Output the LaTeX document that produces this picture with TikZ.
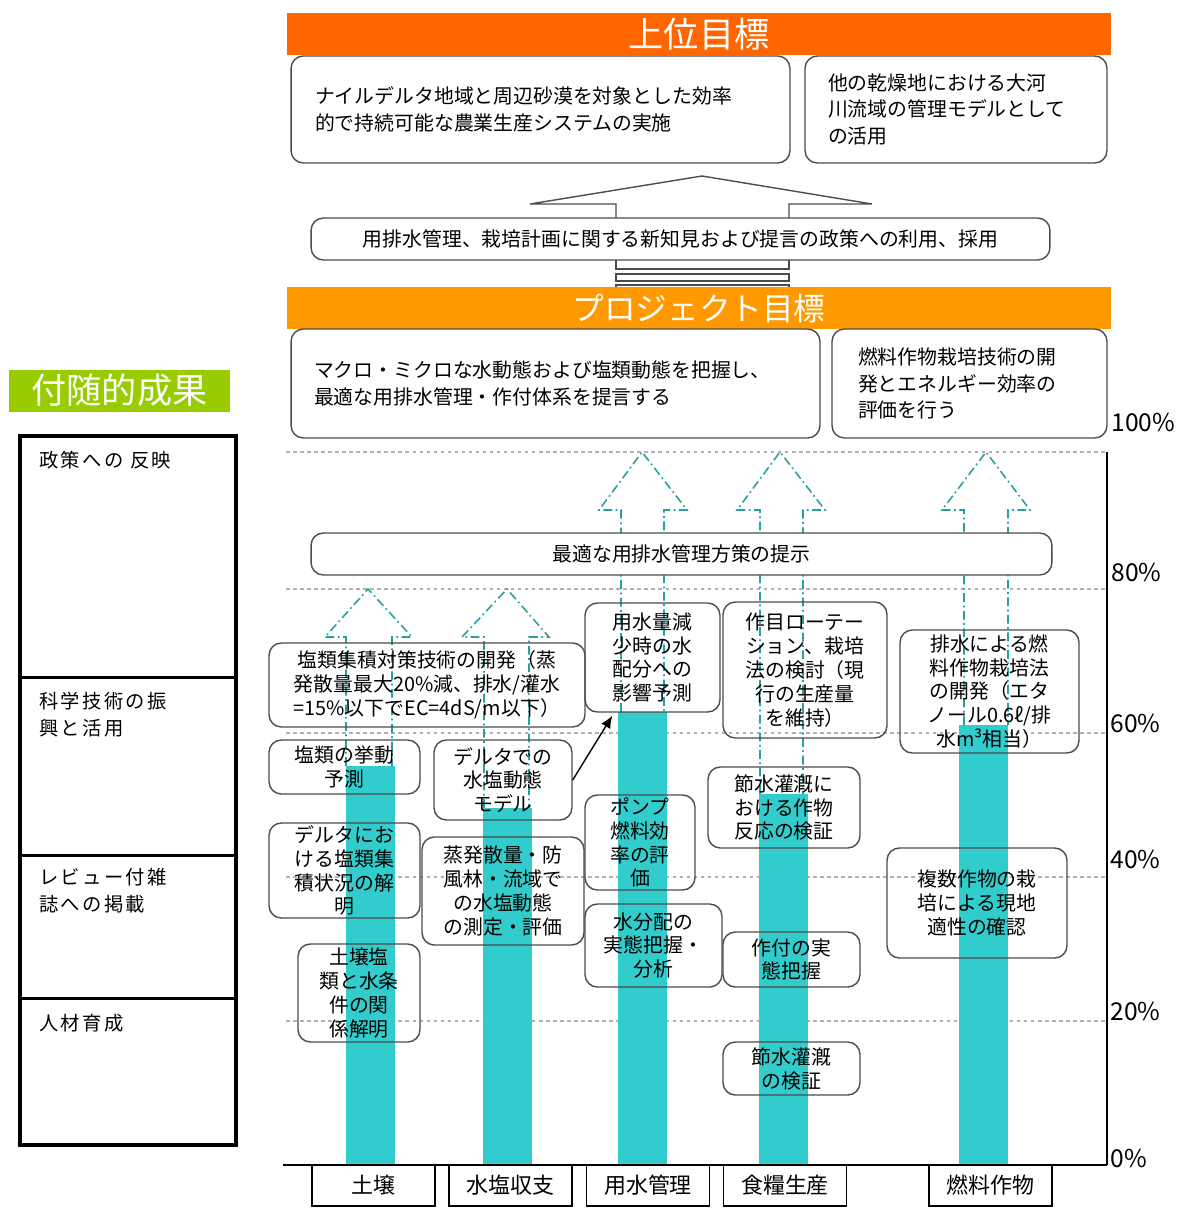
\documentclass[tikz,border=0pt]{standalone}
\usepackage{fontspec}
\usepackage{tikz}
\usetikzlibrary{arrows.meta}
\setmainfont{Noto Sans CJK JP}

\definecolor{goalorange}{RGB}{255,102,0}
\definecolor{projorange}{RGB}{255,153,0}
\definecolor{sidegreen}{RGB}{153,204,0}
\definecolor{barteal}{RGB}{51,204,204}
\definecolor{dashteal}{RGB}{40,160,160}

\tikzset{
  banner/.style={fill=#1, text=white, minimum height=0.84cm, inner sep=0pt},
  box/.style={draw=black!70, line width=0.8pt, rounded corners=7pt, align=center, inner sep=0pt, font=\fontsize{11.3}{13.6}\selectfont},
  bigbox/.style={box, fill=white, align=left, inner ysep=0pt, font=\fontsize{11.3}{15.3}\selectfont},
  catbox/.style={draw, line width=0.8pt, inner sep=0pt, minimum width=2.46cm, minimum height=0.82cm, font=\fontsize{12.5}{15}\selectfont},
  levelline/.style={draw=black!30, line width=0.6pt, dash pattern=on 2pt off 2pt},
  flow/.style={draw=dashteal, line width=0.9pt, dash pattern=on 5pt off 2pt on 1pt off 2pt},
  bigarrow/.style={draw=black!70, line width=0.8pt},
  pct/.style={anchor=base west, inner sep=0pt, font=\fontsize{14}{16}\selectfont},
  sidetext/.style={anchor=north west, align=left, inner sep=0pt, font=\fontsize{11}{15.3}\selectfont\addfontfeature{LetterSpace=12}}
}

\begin{document}
\begin{tikzpicture}[x=0.02cm, y=-0.02cm]
\useasboundingbox (0,0) rectangle (1181,1210);

% levels and axis
\draw[levelline] (286,452) -- (1107,452); \draw[levelline] (286,589) -- (1107,589);
\draw[levelline] (286,733) -- (1107,733); \draw[levelline] (286,877) -- (1107,877);
\draw[levelline] (286,1021) -- (1107,1021);
\draw[line width=1pt] (1107,452) -- (1107,1165); \draw[line width=1pt] (283,1165) -- (1107,1165);
\node[pct] (p100) at (1111,431) {100\%}; \node[pct] (p80) at (1111,581) {80\%};
\node[pct] (p60) at (1110,732) {60\%}; \node[pct] (p40) at (1110,868) {40\%};
\node[pct] (p20) at (1110,1020) {20\%}; \node[pct] (p0) at (1110,1167) {0\%};

% bars
\fill[barteal] (346,766) rectangle (395,1165);
\fill[barteal] (483,808) rectangle (532,1165);
\fill[barteal] (618,712) rectangle (667,1165);
\fill[barteal] (759,794) rectangle (808,1165);
\fill[barteal] (959,725) rectangle (1008,1165);

% dash-dot arrows
\draw[flow] (346,766) -- (346,637) -- (325,637) -- (368,589) -- (412,637) -- (392,637) -- (392,766);
\draw[flow] (484,808) -- (484,637) -- (462,637) -- (507,589) -- (549,637) -- (529,637) -- (529,808);
\draw[flow] (621,712) -- (621,510) -- (599,510) -- (642,452) -- (687,510) -- (664,510) -- (664,712);
\draw[flow] (760,794) -- (760,510) -- (737,510) -- (780,452) -- (825,510) -- (803,510) -- (803,794);
\draw[flow] (964,725) -- (964,510) -- (942,510) -- (986,452) -- (1030,510) -- (1008,510) -- (1008,725);

% big arrow to the upper goal
\draw[bigarrow] (616,218) -- (616,204) -- (530,204) -- (702,176) -- (872,204) -- (789,204) -- (789,218);
\draw[bigarrow] (616,260) -- (616,269) -- (789,269) -- (789,260);
\draw[bigarrow] (616,274) rectangle (789,281); \draw[bigarrow] (616,285) rectangle (789,292);

% goals
\node[banner=goalorange, minimum width=16.48cm, font=\fontsize{20}{22}\selectfont] (upper) at (699,34) {上位目標};
\node[bigbox, inner xsep=0.48cm, text width=9.02cm, minimum height=2.14cm] (upleft) at (540.5,109.5) {ナイルデルタ地域と周辺砂漠を対象とした効率\\的で持続可能な農業生産システムの実施};
\node[bigbox, inner xsep=0.46cm, text width=5.12cm, minimum height=2.14cm] (upright) at (956,109.5) {他の乾燥地における大河\\川流域の管理モデルとして\\の活用};
\node[box, fill=white, minimum width=14.78cm, minimum height=0.84cm] (policy) at (680.5,239) {用排水管理、栽培計画に関する新知見および提言の政策への利用、採用};
\node[banner=projorange, minimum width=16.48cm, font=\fontsize{18}{22}\selectfont] (project) at (699,308) {プロジェクト目標};
\node[bigbox, inner xsep=0.46cm, text width=9.66cm, minimum height=2.18cm] (projleft) at (555.5,383.5) {マクロ・ミクロな水動態および塩類動態を把握し、\\最適な用排水管理・作付体系を提言する};
\node[bigbox, inner xsep=0.52cm, text width=4.46cm, minimum height=2.18cm] (projright) at (969.5,383.5) {燃料作物栽培技術の開\\発とエネルギー効率の\\評価を行う};
\node[box, fill=white, minimum width=14.82cm, minimum height=0.84cm] (optimal) at (681.5,554) {最適な用排水管理方策の提示};

% results
\node[box, minimum width=6.32cm, minimum height=1.68cm] (salt) at (427,685) {塩類集積対策技術の開発（蒸\\発散量最大20\%減、排水/灌水\\=15\%以下でEC=4dS/m以下）};
\node[box, minimum width=3.02cm, minimum height=1.08cm] (behav) at (344.5,767) {塩類の挙動\\予測};
\node[box, minimum width=2.76cm, minimum height=1.6cm] (model) at (503,780) {デルタでの\\水塩動態\\モデル};
\node[box, minimum width=3.02cm, minimum height=1.9cm] (accum) at (344.5,870.5) {デルタにお\\ける塩類集\\積状況の解\\明};
\node[box, minimum width=3.24cm, minimum height=2.16cm] (meas) at (503,891) {蒸発散量・防\\風林・流域で\\の水塩動態\\の測定・評価};
\node[box, minimum width=2.44cm, minimum height=1.96cm] (soil) at (359,993) {土壌塩\\類と水条\\件の関\\係解明};
\node[box, minimum width=2.7cm, minimum height=2.18cm] (impact) at (652.5,657.5) {用水量減\\少時の水\\配分への\\影響予測};
\node[box, minimum width=2.2cm, minimum height=1.9cm] (pump) at (640,842.5) {ポンプ\\燃料効\\率の評\\価};
\node[box, minimum width=2.74cm, minimum height=1.66cm] (distr) at (653.5,945.5) {水分配の\\実態把握・\\分析};
\node[box, minimum width=3.28cm, minimum height=2.72cm] (rotation) at (805,670) {作目ローテー\\ション、栽培\\法の検討（現\\行の生産量\\を維持）};
\node[box, minimum width=3.04cm, minimum height=1.62cm] (response) at (784,807.5) {節水灌漑に\\おける作物\\反応の検証};
\node[box, minimum width=2.74cm, minimum height=1.1cm] (cropping) at (791.5,959.5) {作付の実\\態把握};
\node[box, minimum width=2.74cm, minimum height=1.06cm] (saving) at (791.5,1068.5) {節水灌漑\\の検証};
\node[box, minimum width=3.58cm, minimum height=2.46cm] (fuel) at (989.5,691.5) {排水による燃\\料作物栽培法\\の開発（エタ\\ノール0.6ℓ/排\\水m³相当）};
\node[box, minimum width=3.6cm, minimum height=2.2cm] (multi) at (977,903) {複数作物の栽\\培による現地\\適性の確認};

\draw[-{Latex[length=7pt,width=6pt]}, line width=0.8pt] (model.east) -- ([xshift=0.56cm,yshift=-0.06cm]impact.south west);

% categories
\node[catbox] (catsoil) at (373.5,1185.5) {土壌};
\node[catbox] (catwsb) at (510.5,1185.5) {水塩収支};
\node[catbox] (catwater) at (648,1185.5) {用水管理};
\node[catbox] (catfood) at (785,1185.5) {食糧生産};
\node[catbox] (catfuel) at (990.5,1185.5) {燃料作物};

% side results
\node[banner=sidegreen, minimum width=4.42cm, font=\fontsize{20}{22}\selectfont] (side) at (119.5,390.5) {付随的成果};
\draw[line width=2.2pt] (20,436) rectangle (236,1145);
\draw[line width=1.7pt] (20,677) -- (236,677); \draw[line width=1.7pt] (20,855) -- (236,855); \draw[line width=1.7pt] (20,998) -- (236,998);
\node[sidetext] (reflect) at (39,451) {政策への 反映};
\node[sidetext] (science) at (39,692) {科学技術の振\\興と活用};
\node[sidetext] (review) at (39,868) {レビュー付雑\\誌への掲載};
\node[sidetext] (training) at (39,1014) {人材育成};
\end{tikzpicture}
\end{document}
